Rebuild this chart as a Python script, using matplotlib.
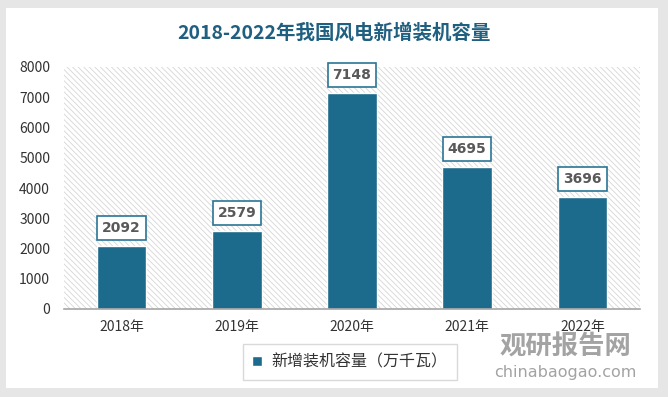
import matplotlib.pyplot as plt
from matplotlib.patches import Rectangle

plt.rcParams['font.family'] = ['Noto Sans CJK SC', 'DejaVu Sans']
plt.rcParams['hatch.linewidth'] = 0.6

years = ['2018年', '2019年', '2020年', '2021年', '2022年']
capacity = [2092, 2579, 7148, 4695, 3696]
title = '2018-2022年我国风电新增装机容量'
series_name = '新增装机容量（万千瓦）'

bar_color = '#1c6a8c'

fig = plt.figure(figsize=(6.68, 3.97), dpi=100)
fig.patch.set_facecolor('#e6e6e6')
# white card behind everything
fig.patches.append(Rectangle((6 / 668, 9 / 397), 652 / 668, 380 / 397,
                             transform=fig.transFigure, facecolor='white',
                             edgecolor='none', zorder=-5))

ax = fig.add_axes([64 / 668, 88 / 397, 576 / 668, 242 / 397])
ax.set_zorder(1)
ax.set_facecolor('none')
# hatched plot background
ax.add_patch(Rectangle((0, 0), 1, 1, transform=ax.transAxes, facecolor='white',
                       edgecolor='#d6d6d6', linewidth=0, hatch='\\\\\\\\\\\\', zorder=0))

x = range(len(years))
bars = ax.bar(x, capacity, width=0.43, color=bar_color, edgecolor='white',
              linewidth=1, zorder=2)

for xi, v in zip(x, capacity):
    ax.annotate(str(v), (xi, v), xytext=(0, 13), textcoords='offset points',
                ha='center', va='center', fontsize=10, fontweight='bold',
                color='#595959', family=['DejaVu Sans'],
                bbox=dict(boxstyle='square,pad=0.35', facecolor='white',
                          edgecolor='#2a7595', linewidth=1.2), zorder=3)

ax.set_xlim(-0.5, 4.5)
ax.set_ylim(0, 8000)
ax.set_yticks(range(0, 8001, 1000))
ax.set_xticks(list(x))
ax.set_xticklabels(years)
ax.tick_params(axis='both', length=0, labelsize=10, colors='#333333')
ax.tick_params(axis='x', pad=8)
ax.tick_params(axis='y', pad=10)
for s in ['top', 'right', 'left']:
    ax.spines[s].set_visible(False)
ax.spines['bottom'].set_color('#a6a6a6')
ax.spines['bottom'].set_linewidth(1.2)

fig.text(334 / 668, 1 - 33 / 397, title, ha='center', va='center',
         fontsize=14, fontweight='bold', color='#1f5f80')

leg = fig.legend([bars], [series_name], loc='center', bbox_to_anchor=(350 / 668, 1 - 362 / 397),
                 fontsize=11.5, frameon=True, fancybox=False, handlelength=0.6,
                 handleheight=0.6, borderpad=0.6, handletextpad=0.6)
leg.get_frame().set_edgecolor('#d0d0d0')
for t in leg.get_texts():
    t.set_color('#333333')

# watermark
fig.text(565 / 668, 1 - 347 / 397, '观研报告网', ha='center', va='center',
         fontsize=19, fontweight='bold', color='#8c8c8c', alpha=0.8)
fig.text(565 / 668, 1 - 373 / 397, 'chinabaogao.com', ha='center', va='center',
         fontsize=11.5, color='#8c8c8c', alpha=0.8, family=['DejaVu Sans'])

fig.savefig('out.png', dpi=100, facecolor=fig.get_facecolor())
